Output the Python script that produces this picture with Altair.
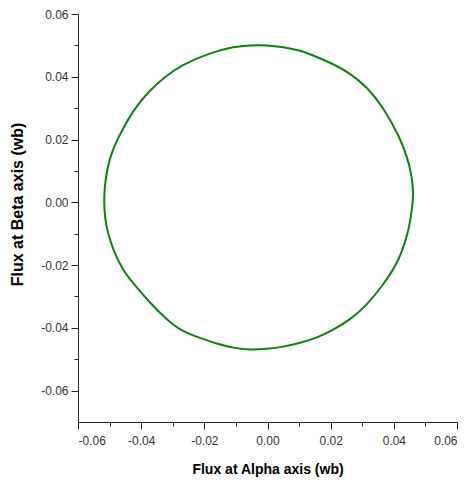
import altair as alt
import pandas as pd

# Stator flux trajectory in the alpha-beta plane (Wb), traced clockwise from the left edge
flux_alpha = [
    -0.0518, -0.0515, -0.0508, -0.0496, -0.0477, -0.0426, -0.0372, -0.0318,
    -0.0268, -0.0214, -0.0160, -0.0109, -0.0055, -0.0002, 0.0049, 0.0103,
    0.0157, 0.0207, 0.0261, 0.0315, 0.0366, 0.0420, 0.0442, 0.0454,
    0.0461, 0.0461, 0.0454, 0.0445, 0.0420, 0.0397, 0.0366, 0.0315,
    0.0261, 0.0207, 0.0157, 0.0103, 0.0049, -0.0002, -0.0055, -0.0109,
    -0.0160, -0.0214, -0.0268, -0.0318, -0.0372, -0.0426, -0.0458, -0.0489,
    -0.0508, -0.0515,
]
flux_beta = [
    0.0007, 0.0055, 0.0103, 0.0151, 0.0199, 0.0294, 0.0358, 0.0406,
    0.0438, 0.0463, 0.0482, 0.0495, 0.0501, 0.0501, 0.0495, 0.0485,
    0.0463, 0.0441, 0.0412, 0.0367, 0.0304, 0.0205, 0.0144, 0.0097,
    0.0049, 0.0007, -0.0047, -0.0098, -0.0174, -0.0216, -0.0263, -0.0327,
    -0.0375, -0.0407, -0.0432, -0.0448, -0.0461, -0.0467, -0.0471, -0.0464,
    -0.0451, -0.0432, -0.0413, -0.0375, -0.0321, -0.0257, -0.0216, -0.0152,
    -0.0088, -0.0047,
]

x_major = [-0.06, -0.04, -0.02, 0.0, 0.02, 0.04, 0.06]
x_minor = [-0.05, -0.03, -0.01, 0.01, 0.03, 0.05]
y_major = [-0.06, -0.04, -0.02, 0.0, 0.02, 0.04, 0.06]
y_minor = [-0.05, -0.03, -0.01, 0.01, 0.03, 0.05]

df = pd.DataFrame({"alpha": flux_alpha, "beta": flux_beta, "step": range(len(flux_alpha))})

label_font = "Liberation Sans Narrow, Liberation Sans, Arial"
title_font = "Liberation Sans, Arial"
axis_color = "#222222"
# plain hyphen for negative tick labels
label_expr = "replace(format(datum.value, '.2f'), '\u2212', '-')"

x_scale = alt.Scale(domain=[-0.06, 0.06], nice=False, zero=False)
y_scale = alt.Scale(domain=[-0.07, 0.06], nice=False, zero=False)

major = alt.Chart(df).mark_line(
    color="#0b840b", strokeWidth=2, interpolate="basis-closed"
).encode(
    x=alt.X("alpha:Q", scale=x_scale, axis=alt.Axis(
        orient="bottom", values=x_major, labelExpr=label_expr, grid=False,
        tickSize=7, tickColor=axis_color, domainColor=axis_color,
        labelFont=label_font, labelFontSize=12, labelColor="#333333", labelPadding=6,
        title="Flux at Alpha axis (wb)", titleFont=title_font, titleFontSize=14,
        titleFontWeight="bold", titleColor="#000000", titleY=47, titleBaseline="middle",
    )),
    y=alt.Y("beta:Q", scale=y_scale, axis=alt.Axis(
        orient="left", values=y_major, labelExpr=label_expr, grid=False,
        tickSize=7, tickColor=axis_color, domainColor=axis_color,
        labelFont=label_font, labelFontSize=12, labelColor="#333333", labelPadding=3,
        title="Flux at Beta axis (wb)", titleFont=title_font, titleFontSize=16,
        titleFontWeight="bold", titleColor="#000000", titleX=-61, titleY=190,
        titleBaseline="middle", titleAlign="center", titleAngle=270,
    )),
    order="step:Q",
)

# Unlabelled minor ticks at the odd hundredths, sharing the same scales
minor = alt.Chart(df).mark_line(opacity=0).encode(
    x=alt.X("alpha:Q", scale=x_scale, axis=alt.Axis(
        orient="bottom", values=x_minor, labels=False, grid=False, domain=False,
        tickSize=4, tickColor=axis_color, title=None,
    )),
    y=alt.Y("beta:Q", scale=y_scale, axis=alt.Axis(
        orient="left", values=y_minor, labels=False, grid=False, domain=False,
        tickSize=4, tickColor=axis_color, title=None,
    )),
    order="step:Q",
)

chart = alt.layer(major, minor).resolve_axis(
    x="independent", y="independent"
).properties(
    width=379,
    height=408,
    autosize=alt.AutoSizeParams(type="none"),
    padding={"left": 78, "top": 14, "right": 13, "bottom": 64},
    background="white",
).configure_view(stroke=None)

chart.save("out.html", embed_options={"renderer": "svg", "actions": False})
